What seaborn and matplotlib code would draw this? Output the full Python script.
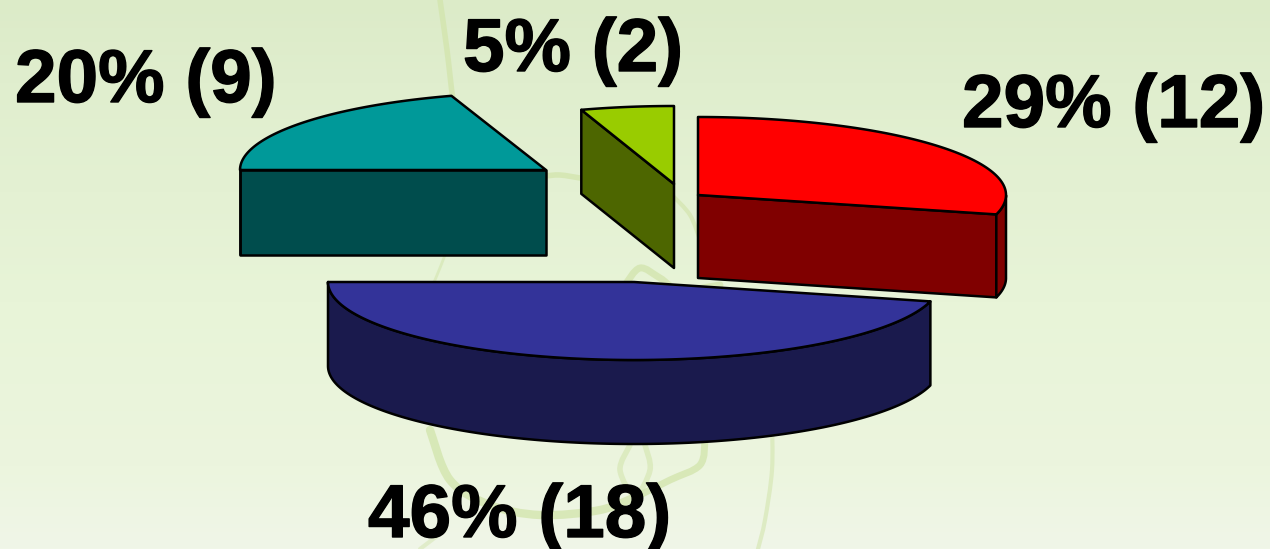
import numpy as np
import matplotlib
matplotlib.use("Agg")
import matplotlib.pyplot as plt
import matplotlib.patheffects as pe
from matplotlib.path import Path
from matplotlib.patches import PathPatch
import seaborn as sns

# ---- data ----
slices = ["red", "blue", "teal", "green"]
percents = [29, 46, 20, 5]
counts = [12, 18, 9, 2]

# ---- style / layout ----
top_colors = sns.color_palette(["#ff0000", "#333399", "#009999", "#99cc00"])
side_colors = sns.color_palette(["#800000", "#1a1a4d", "#004d4d", "#4d6600"])
centers = [(698, 195), (634, 282), (546, 170), (674, 184)]
radii_x = [308, 306, 306, 300]
radius_y = 78
depths = [83, 84, 85, 84]
label_pos = [(962, 127), (368, 537), (15, 102), (463, 71)]
draw_order = [2, 3, 0, 1]

sns.set_theme(style="white")
plt.rcParams["font.family"] = ["Liberation Sans", "DejaVu Sans"]

fig = plt.figure(figsize=(12.7, 5.49), dpi=100)
ax = fig.add_axes([0, 0, 1, 1])
ax.set_xlim(0, 1270)
ax.set_ylim(549, 0)
ax.axis("off")

# background: vertical gradient
stops_y = [0, 0.15, 0.55, 0.85, 1]
stops = np.array([[220, 235, 200], [224, 238, 206], [232, 244, 216], [236, 245, 222], [240, 246, 232]]) / 255
yy = np.linspace(0, 1, 549)
grad = np.stack([np.interp(yy, stops_y, stops[:, i]) for i in range(3)], axis=1)[:, None, :]
ax.imshow(grad, extent=[0, 1270, 549, 0], aspect="auto", zorder=0)


def smooth_stroke(pts, lw, alpha=1.0):
    verts = [pts[0]]
    codes = [Path.MOVETO]
    p = [pts[0]] + list(pts) + [pts[-1]]
    for i in range(1, len(p) - 2):
        p0, p1, p2, p3 = map(np.array, p[i - 1:i + 3])
        verts += [tuple(p1 + (p2 - p0) / 6), tuple(p2 - (p3 - p1) / 6), tuple(p2)]
        codes += [Path.CURVE4] * 3
    ax.add_patch(PathPatch(Path(verts, codes), fc="none", ec="#d3e5ae", lw=lw,
                           alpha=alpha, capstyle="round", zorder=1))


# faint decorative swirl of the slide background
smooth_stroke([(440, 0), (447, 50), (453, 100), (460, 140)], 4, 0.8)
smooth_stroke([(545, 176), (560, 175), (580, 178)], 4, 0.8)
smooth_stroke([(672, 195), (690, 215), (700, 240)], 3, 0.7)
smooth_stroke([(445, 255), (435, 280), (425, 300)], 2, 0.6)
smooth_stroke([(430, 430), (450, 480), (490, 505), (540, 515), (600, 510), (640, 495)], 6, 0.8)
smooth_stroke([(640, 495), (670, 480), (700, 465), (705, 440)], 5, 0.8)
smooth_stroke([(625, 285), (640, 268), (660, 278), (680, 290), (720, 285)], 5, 0.8)
smooth_stroke([(630, 445), (620, 470), (635, 495), (650, 470), (645, 445)], 4, 0.6)
smooth_stroke([(772, 420), (772, 470), (765, 520), (758, 549)], 3, 0.6)
smooth_stroke([(445, 530), (420, 549)], 3, 0.5)

LW = 1.8
start = 90.0
spans = []
for pct in percents:  # clockwise from 12 o'clock
    spans.append((start - pct * 3.6, start))
    start -= pct * 3.6


def ell(cx, cy, a, theta_deg):
    t = np.radians(theta_deg)
    return cx + a * np.cos(t), cy - radius_y * np.sin(t)


def face(xs, ys, color, z):
    ax.fill(xs, ys, facecolor=color, edgecolor="black", lw=LW, joinstyle="round", zorder=z)


for n, i in enumerate(draw_order):
    t1, t2 = spans[i]
    (cx, cy), a, d = centers[i], radii_x[i], depths[i]
    z = 3 + n
    side, top = side_colors[i], top_colors[i]

    # radial cut faces turned towards the viewer
    for th, seen in ((t1, np.cos(np.radians(t1)) > 1e-6), (t2, np.cos(np.radians(t2)) < -1e-6)):
        if seen:
            ex, ey = ell(cx, cy, a, th)
            face([cx, ex, ex, cx], [cy, ey, ey + d, cy + d], side, z)

    # outer rim: the part of the arc on the front half of the ellipse
    th = np.linspace(t1, t2, 200)
    front = np.sin(np.radians(th)) <= 0.0
    if front.any():
        rx, ry = ell(cx, cy, a, th[front])
        face(np.r_[rx, rx[::-1]], np.r_[ry, (ry + d)[::-1]], side, z)

    # top surface
    ax_, ay_ = ell(cx, cy, a, th)
    face(np.r_[cx, ax_], np.r_[cy, ay_], top, z + 0.5)

for pct, cnt, (x, y) in zip(percents, counts, label_pos):
    ax.text(x, y, f"{pct}% ({cnt})", fontsize=53.8, fontweight="bold", color="black",
            ha="left", va="baseline", zorder=20,
            path_effects=[pe.withStroke(linewidth=1.0, foreground="black")])

fig.savefig("out.png", dpi=100)
